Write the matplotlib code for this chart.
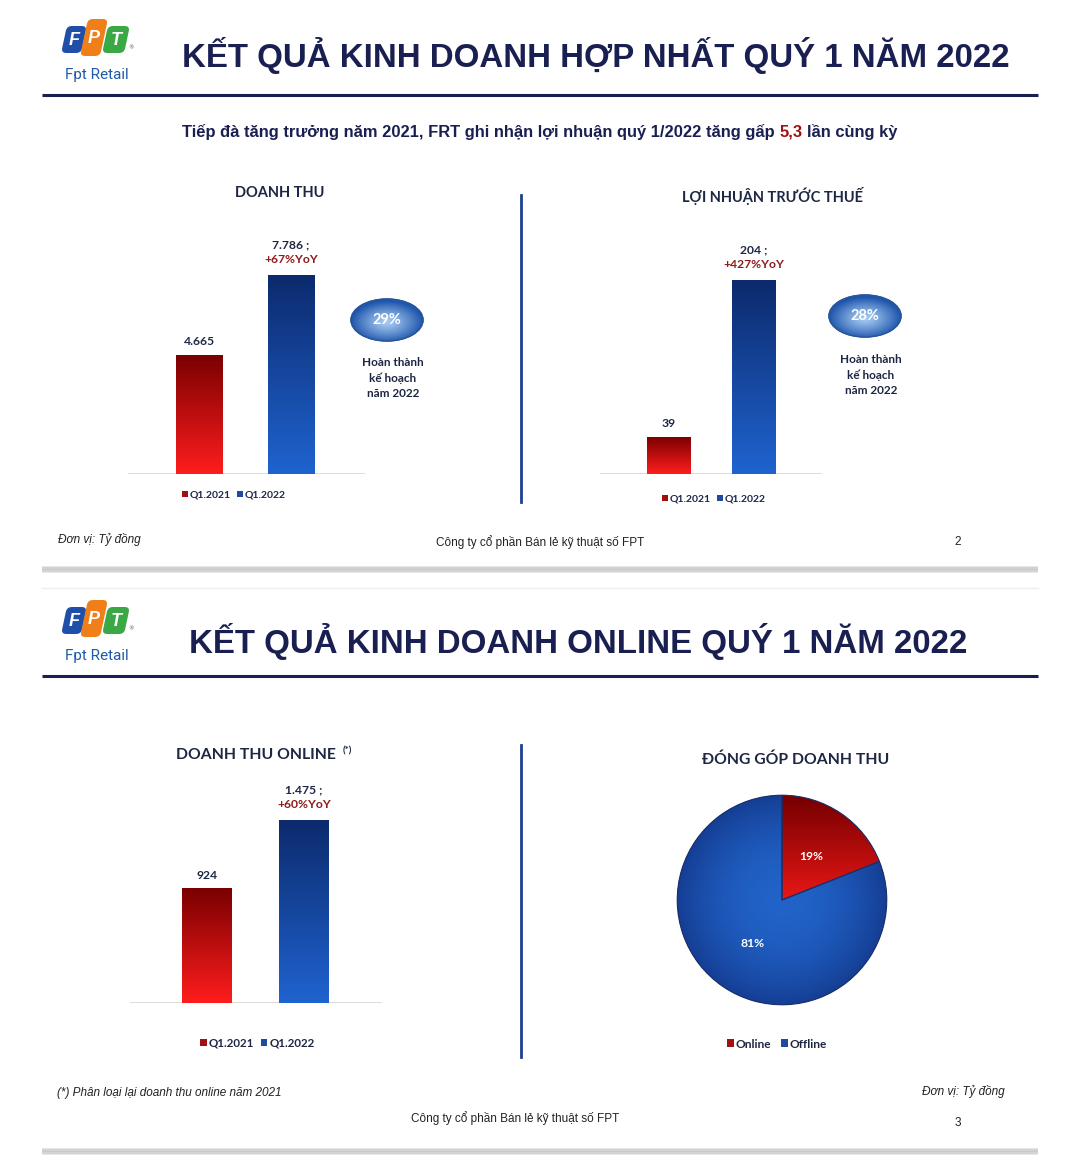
import numpy as np
import matplotlib
matplotlib.use("Agg")
import matplotlib.pyplot as plt
import matplotlib.transforms as mtransforms
from matplotlib.patches import Ellipse, Patch, FancyBboxPatch, Rectangle, Wedge
from matplotlib.colors import to_rgb

W, H = 1080, 1167

# ===============================
# Data
# ===============================
quarters = ["Q1.2021", "Q1.2022"]

revenue = [4665, 7786]
revenue_labels = ["4.665", "7.786 ;"]
revenue_yoy = "+67%YoY"

profit = [39, 204]
profit_labels = ["39", "204 ;"]
profit_yoy = "+427%YoY"

online_rev = [924, 1475]
online_labels = ["924", "1.475 ;"]
online_yoy = "+60%YoY"

plan_done = ["29%", "28%"]

mix_names = ["Online", "Offline"]
mix_share = [19, 81]

# ===============================
# Style
# ===============================
NAVY = "#1a1f52"
TXT = "#1d2744"
DRED = "#8e1b1b"
RED_TOP, RED_BOT = "#7a0000", "#ff1d1d"
BLUE_TOP, BLUE_BOT = "#0c2a6c", "#1f63d0"
SANS = ["Liberation Sans", "DejaVu Sans"]
CAL = ["Lato", "DejaVu Sans"]

fig = plt.figure(figsize=(W / 100, H / 100), dpi=100)
fig.patch.set_facecolor("white")

# overlay in pixel coordinates
ax0 = fig.add_axes([0, 0, 1, 1])
ax0.set_xlim(0, W)
ax0.set_ylim(H, 0)
ax0.axis("off")


def px_rect(x0, y0, x1, y1):
    return [x0 / W, 1 - y1 / H, (x1 - x0) / W, (y1 - y0) / H]


def blend(c1, c2, t):
    a, b = np.array(to_rgb(c1)), np.array(to_rgb(c2))
    t = np.clip(t, 0, 1)[..., None]
    return a * (1 - t) + b * t


def gradient_fill(ax, patch, img, extent, z):
    im = ax.imshow(img, extent=extent, aspect="auto", origin="lower",
                   zorder=z, interpolation="bilinear")
    im.set_clip_path(patch)
    return im


def logo(ax, dy):
    shapes = [(64, 26, 20, 27, "#1f4fa8", "F"),
              (84, 19, 20, 37, "#f07f1a", "P"),
              (105, 26, 22, 27, "#3aa844", "T")]
    for x, y, w, h, c, letter in shapes:
        y = y + dy
        cx, cy = x + w / 2, y + h / 2
        tr = (mtransforms.Affine2D().translate(-cx, -cy).skew_deg(-12, 0)
              .translate(cx, cy) + ax.transData)
        p = FancyBboxPatch((x, y), w, h, boxstyle="round,pad=0,rounding_size=5",
                           facecolor=c, edgecolor="none", transform=tr)
        ax.add_patch(p)
        ax.text(cx, cy + 1, letter, color="white", fontsize=13, weight="bold",
                style="italic", ha="center", va="center", family=SANS)
    ax.text(131, 48 + dy, "®", color="#555555", fontsize=4, ha="center", va="center")
    ax.text(97, 75 + dy, "Fpt Retail", color="#1f5aa8", fontsize=11,
            ha="center", va="center", family=["Roboto", "DejaVu Sans"])


def rich_line(ax, xc, y, parts, **kw):
    r = fig.canvas.get_renderer()
    objs = []
    for s, c in parts:
        objs.append(ax.text(0, y, s, color=c, ha="left", va="center", **kw))
    t1 = ax.text(0, y, "a a", **kw)
    t2 = ax.text(0, y, "aa", **kw)
    gap = t1.get_window_extent(r).width - t2.get_window_extent(r).width
    t1.remove()
    t2.remove()
    widths = [o.get_window_extent(r).width for o in objs]
    total = sum(widths) + gap * (len(objs) - 1)
    x = xc - total / 2
    for o, w in zip(objs, widths):
        o.set_x(x)
        x += w + gap


def bubble(ax, cx, cy, text):
    w, h = 72, 42
    e = Ellipse((cx, cy), w, h, facecolor="#3b78cc", edgecolor="#2a5598", lw=1)
    ax.add_patch(e)
    xs = np.linspace(cx - w / 2, cx + w / 2, 80)
    ys = np.linspace(cy + h / 2, cy - h / 2, 60)
    X, Y = np.meshgrid(xs, ys)
    t = np.sqrt(((X - cx) / (w / 2)) ** 2 + ((Y - cy - 2) / (h / 2)) ** 2)
    img = blend("#a9cdf3", "#1f56ad", t ** 1.2)
    im = ax.imshow(img, extent=(cx - w / 2, cx + w / 2, cy + h / 2, cy - h / 2),
                   aspect="auto", origin="lower", zorder=1.5, interpolation="bilinear")
    im.set_clip_path(e)
    ax.add_patch(Ellipse((cx, cy), w, h, facecolor="none", edgecolor="#2a5598",
                         lw=1, zorder=1.6))
    ax.text(cx, cy, text, color="white", fontsize=10.5, weight="bold",
            ha="center", va="center", family=CAL, zorder=2)


def bar_panel(rect, values, labels, yoy, xlim, ymax, width, leg_xy, leg_size):
    ax = fig.add_axes(px_rect(*rect))
    ax.patch.set_visible(False)
    x = np.arange(len(values))
    bars = ax.bar(x, values, width=width, color=[RED_BOT, BLUE_BOT],
                  edgecolor="none", zorder=2)
    g = np.linspace(0, 1, 200)[:, None] * np.ones((1, 2))
    for b, top, bot in zip(bars, [RED_TOP, BLUE_TOP], [RED_BOT, BLUE_BOT]):
        bb = b.get_bbox()
        gradient_fill(ax, b, blend(bot, top, g), [bb.x0, bb.x1, bb.y0, bb.y1], 2.1)
    ax.set_xlim(*xlim)
    ax.set_ylim(0, ymax)
    ax.axhline(0, color="#d6d6d6", lw=1.2, zorder=1)
    ax.axis("off")
    kw = dict(textcoords="offset points", ha="center", va="center",
              fontsize=8.7, weight="bold", family=CAL)
    ax.annotate(labels[0], (0, values[0]), xytext=(0, 9.5), color=TXT, **kw)
    ax.annotate(labels[1], (1, values[1]), xytext=(0, 21.8), color=TXT, **kw)
    ax.annotate(yoy, (1, values[1]), xytext=(0, 11.3), color=DRED, **kw)
    handles = [Patch(facecolor="#a01212"), Patch(facecolor="#1f4aa0")]
    ax.legend(handles, quarters, loc="center",
              bbox_to_anchor=(leg_xy[0] / W, 1 - leg_xy[1] / H),
              bbox_transform=fig.transFigure, ncol=2, frameon=False,
              handlelength=0.6, handleheight=0.6, handletextpad=0.15,
              columnspacing=0.6, prop=dict(family=CAL, weight="bold", size=leg_size),
              labelcolor=TXT)
    return ax


# ===============================
# Slide frames
# ===============================
for dy in (0, 581):
    logo(ax0, dy)
    ax0.plot([42, 1038], [95 + dy, 95 + dy], color=NAVY, lw=2.2,
             solid_capstyle="butt")
for y in (566, 1148):
    for i, c in enumerate(["#e6e6e6", "#d2d2d2", "#c9c9c9", "#d4d4d4", "#e8e8e8"]):
        ax0.add_patch(Rectangle((42, y + i * 1.4), 996, 1.4, facecolor=c,
                                edgecolor="none"))
ax0.plot([42, 1038], [588, 588], color="#ededed", lw=1)

ax0.text(596, 56, "KẾT QUẢ KINH DOANH HỢP NHẤT QUÝ 1 NĂM 2022", color=NAVY,
         fontsize=23.8, weight="bold", ha="center", va="center", family=SANS)
ax0.text(578, 641, "KẾT QUẢ KINH DOANH ONLINE QUÝ 1 NĂM 2022", color=NAVY,
         fontsize=23.8, weight="bold", ha="center", va="center", family=SANS)

rich_line(ax0, 540, 132,
          [("Tiếp đà tăng trưởng năm 2021, FRT ghi nhận lợi nhuận quý 1/2022 tăng gấp", NAVY),
           ("5,3", "#a01010"), ("lần cùng kỳ", NAVY)],
          fontsize=11.85, weight="bold", family=SANS)

# separators
ax0.plot([521, 521], [195, 502], color="#1f3f8f", lw=2)
ax0.plot([521, 521], [745, 1057], color="#1f3f8f", lw=2)

# panel titles
tkw = dict(color=TXT, fontsize=10.5, weight="bold", ha="center", va="center", family=CAL)
ax0.text(280, 193, "DOANH THU", **tkw)
ax0.text(772, 196, "LỢI NHUẬN TRƯỚC THUẾ", **tkw)
tkw2 = dict(tkw, fontsize=11.3)
ax0.text(256, 755, "DOANH THU ONLINE", **tkw2)
ax0.text(347, 751, "(*)", color=TXT, fontsize=7, weight="bold", ha="center",
         va="center", family=CAL)
ax0.text(796, 760, "ĐÓNG GÓP DOANH THU", **tkw2)

# plan completion bubbles
bubble(ax0, 387, 320, plan_done[0])
bubble(ax0, 865, 316, plan_done[1])
pkw = dict(color=TXT, fontsize=8.5, weight="bold", ha="center", va="center",
           family=CAL, linespacing=1.45)
ax0.text(393, 378, "Hoàn thành\nkế hoạch\nnăm 2022", **pkw)
ax0.text(871, 375, "Hoàn thành\nkế hoạch\nnăm 2022", **pkw)

# footers
fkw = dict(color="#222222", fontsize=8.5, va="center", family=SANS)
ax0.text(58, 540, "Đơn vị: Tỷ đồng", style="italic", ha="left", **fkw)
ax0.text(540, 542, "Công ty cổ phần Bán lẻ kỹ thuật số FPT", ha="center", **fkw)
ax0.text(958, 542, "2", ha="center", **fkw)
ax0.text(57, 1093, "(*) Phân loại lại doanh thu online năm 2021", style="italic",
         ha="left", **fkw)
ax0.text(1005, 1091, "Đơn vị: Tỷ đồng", style="italic", ha="right", **fkw)
ax0.text(515, 1118, "Công ty cổ phần Bán lẻ kỹ thuật số FPT", ha="center", **fkw)
ax0.text(958, 1123, "3", ha="center", **fkw)

# ===============================
# Bar charts
# ===============================
bar_panel((128, 240, 365, 474), revenue, revenue_labels, revenue_yoy,
          (-0.772, 1.804), 9155, 0.5, (234, 495), 7.5)
bar_panel((600, 240, 822, 474), profit, profit_labels, profit_yoy,
          (-0.806, 1.806), 246, 0.506, (714, 499), 7.5)
bar_panel((130, 780, 382, 1003), online_rev, online_labels, online_yoy,
          (-0.794, 1.804), 1797, 0.515, (257, 1043), 8.3)

# ===============================
# Pie chart
# ===============================
axp = fig.add_axes(px_rect(672, 790, 892, 1010))
axp.patch.set_visible(False)
wedges, texts, autotexts = axp.pie(
    mix_share, startangle=90, counterclock=False,
    colors=[RED_BOT, "#1d55b8"], autopct=lambda p: f"{p:.0f}%", pctdistance=0.5,
    wedgeprops=dict(edgecolor="none"),
    textprops=dict(color="white", weight="bold", size=8.7, family=CAL))
axp.set_xlim(-1.05, 1.05)
axp.set_ylim(-1.05, 1.05)
gx = np.linspace(-1, 1, 200)
GX, GY = np.meshgrid(gx, gx)
R = np.sqrt(GX ** 2 + GY ** 2)
red_img = blend("#f01818", "#7a0000", (GY + 0.05) / 1.0)
blue_img = blend("#2163c8", "#153e94", R ** 2)
gradient_fill(axp, wedges[0], red_img, [-1, 1, -1, 1], 1.5)
gradient_fill(axp, wedges[1], blue_img, [-1, 1, -1, 1], 1.5)
for w in wedges:
    axp.add_patch(Wedge(w.center, w.r, w.theta1, w.theta2, facecolor="none",
                        edgecolor="#1a2f6a", lw=0.8, zorder=1.8))
for t in autotexts:
    t.set_zorder(3)
axp.legend([Patch(facecolor="#a01212"), Patch(facecolor="#1f4aa0")], mix_names,
           loc="center", bbox_to_anchor=(777 / W, 1 - 1044 / H),
           bbox_transform=fig.transFigure, ncol=2, frameon=False,
           handlelength=0.6, handleheight=0.6, handletextpad=0.15,
           columnspacing=0.8, prop=dict(family=CAL, weight="bold", size=8.6),
           labelcolor=TXT)

fig.savefig("out.png", dpi=100)
